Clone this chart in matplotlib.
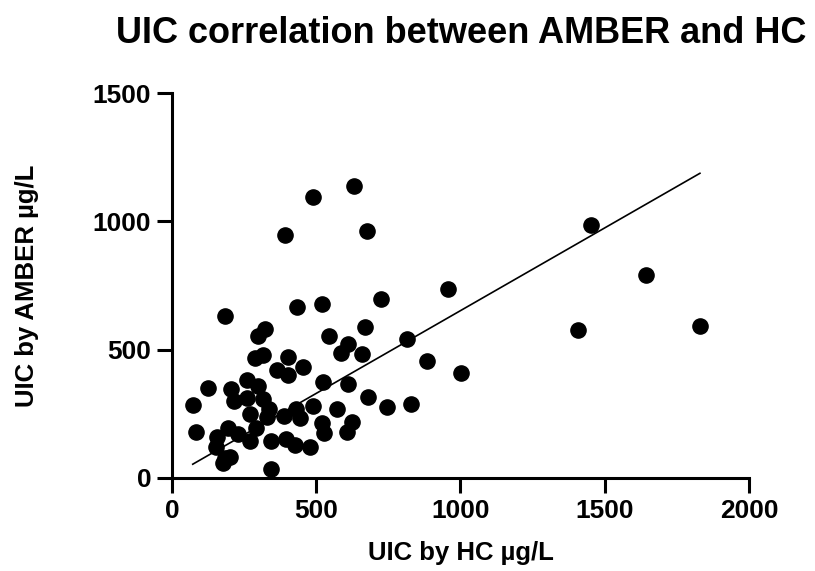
import numpy as np
import matplotlib
matplotlib.use('Agg')
from matplotlib import pyplot as plt

plt.rcParams['font.family'] = ['Liberation Sans', 'DejaVu Sans']
plt.rcParams['font.weight'] = 'bold'

# UIC by HC (ug/L)
hc = [184, 432, 521, 322, 299, 545, 669, 611, 585, 660,
      314, 288, 401, 365, 403, 453, 261, 299, 522, 609,
      678, 126, 203, 72, 215, 261, 316, 338, 270, 328,
      389, 430, 444, 490, 573, 623, 519, 527, 606, 291,
      84, 193, 155, 230, 272, 342, 396, 428, 480, 153,
      184, 201, 342, 178, 392, 490, 631, 675, 1452, 1643,
      1408, 1830, 725, 958, 813, 883, 1001, 746, 827]
# UIC by AMBER (ug/L)
amber = [633, 668, 677, 581, 554, 554, 590, 521, 486, 483,
         480, 469, 473, 421, 402, 432, 382, 360, 373, 366,
         314, 350, 346, 285, 301, 311, 308, 268, 248, 237,
         243, 268, 233, 280, 268, 219, 216, 174, 180, 196,
         180, 194, 160, 170, 145, 145, 152, 130, 120, 122,
         77, 80, 33, 57, 947, 1094, 1136, 963, 984, 791,
         577, 593, 697, 737, 542, 457, 408, 276, 288]

# regression line as seen on the chart
slope = 0.645
intercept = 7.0

fig = plt.figure(figsize=(8.15, 5.71), dpi=100)
ax = fig.add_axes([0.211, 0.163, 0.708, 0.674])

ax.scatter(hc, amber, s=120, color='black', zorder=3, clip_on=False)
xl = np.array([min(hc), max(hc)])
ax.plot(xl, slope * xl + intercept, color='black', lw=1.2, zorder=2)

ax.set_xlim(0, 2000)
ax.set_ylim(0, 1500)
ax.set_xticks([0, 500, 1000, 1500, 2000])
ax.set_yticks([0, 500, 1000, 1500])

for s in ['top', 'right']:
    ax.spines[s].set_visible(False)
for s in ['left', 'bottom']:
    ax.spines[s].set_linewidth(2.2)
ax.tick_params(width=2.2, length=11, labelsize=19, pad=4)
for lab in ax.get_xticklabels() + ax.get_yticklabels():
    lab.set_fontweight('bold')

ax.set_xlabel('UIC by HC µg/L', fontsize=18.5, fontweight='bold')
ax.xaxis.set_label_coords(0.5, -0.195)
ax.xaxis.label.set_va('center')
ax.set_ylabel('UIC by AMBER µg/L', fontsize=18.5, fontweight='bold')
ax.yaxis.set_label_coords(-0.252, 0.5)
ax.yaxis.label.set_va('center')
fig.text(0.5655, 0.942, 'UIC correlation between AMBER and HC', ha='center',
         va='center', fontsize=26, fontweight='bold')

fig.savefig('out.png', dpi=100)
